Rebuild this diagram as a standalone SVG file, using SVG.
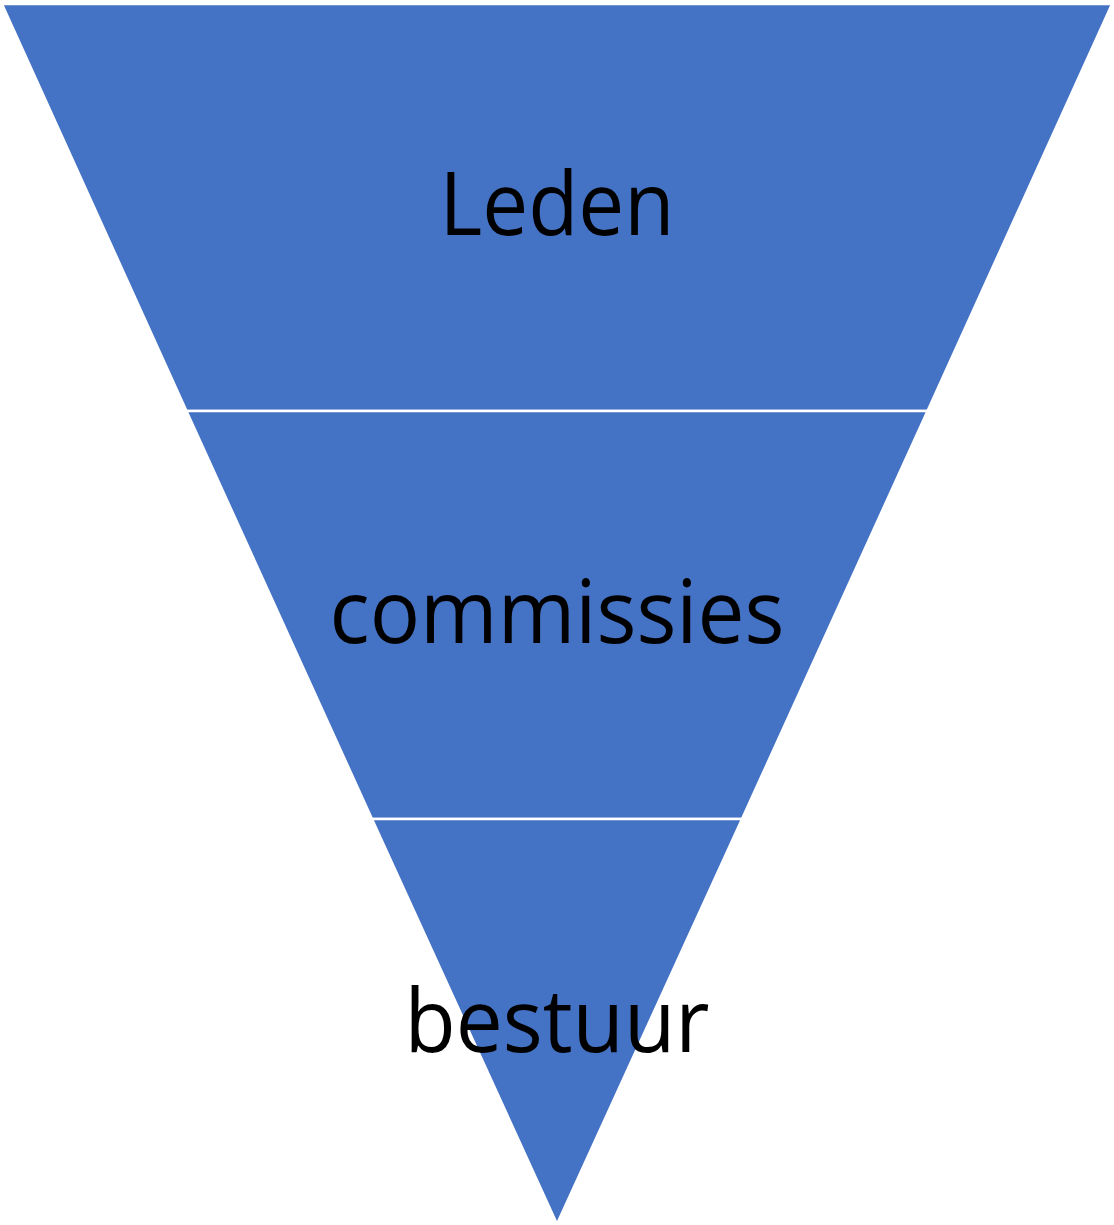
<svg xmlns="http://www.w3.org/2000/svg" width="1114" height="1225" viewBox="0 0 1114 1225">
<style>
.seg{fill:#4472C4;stroke:#FFFFFF;stroke-width:2.5}
.lbl{font-family:"Open Sans","Noto Sans","Liberation Sans",sans-serif;font-size:88px;fill:#000000;text-anchor:middle}
</style>
<rect width="1114" height="1225" fill="#FFFFFF"/>
<g id="leden">
<polygon class="seg" points="2,4 1112,4 927.5,411 186.5,411"/>
<text class="lbl" x="557" y="235" textLength="235" lengthAdjust="spacingAndGlyphs">Leden</text>
</g>
<g id="commissies">
<polygon class="seg" points="186.5,411 927.5,411 742,819 372,819"/>
<text class="lbl" x="557" y="643" textLength="455" lengthAdjust="spacingAndGlyphs">commissies</text>
</g>
<g id="bestuur">
<polygon class="seg" points="372,819 742,819 557,1224"/>
<text class="lbl" x="557" y="1052" textLength="305" lengthAdjust="spacingAndGlyphs">bestuur</text>
</g>
<g id="connectors"></g>
</svg>
